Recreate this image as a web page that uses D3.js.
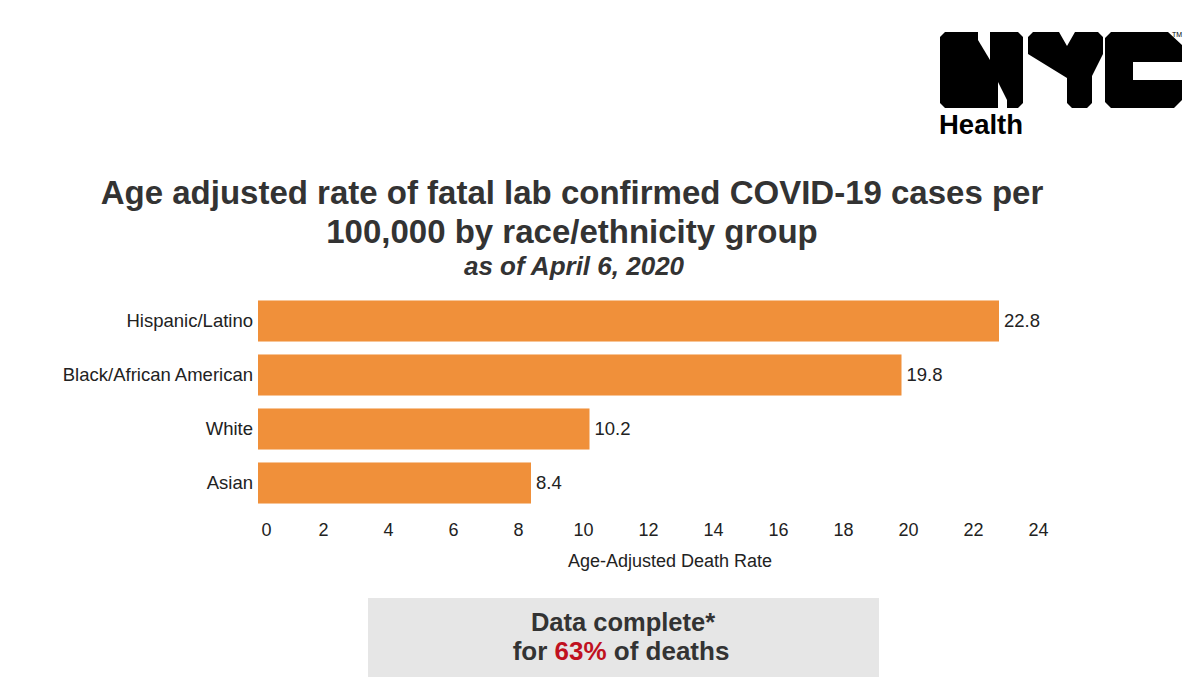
<!DOCTYPE html>
<html><head><meta charset="utf-8">
<script src="https://cdn.jsdelivr.net/npm/d3@7"></script>
<style>
body{margin:0;background:#fff;}
svg{display:block;font-family:"Liberation Sans",Arial,sans-serif;}
</style></head>
<body><svg id="c" width="1200" height="697"></svg>
<script>
const categories = ["Hispanic/Latino","Black/African American","White","Asian"];
const values = [22.8, 19.8, 10.2, 8.4];
const tickValues = [0,2,4,6,8,10,12,14,16,18,20,22,24];
const titleLines = ["Age adjusted rate of fatal lab confirmed COVID-19 cases per","100,000 by race/ethnicity group"];
const subtitle = "as of April 6, 2020";
const axisTitle = "Age-Adjusted Death Rate";

const svg = d3.select("#c");
const x = d3.scaleLinear().domain([0,24]).range([258,1038]);
const y = d3.scaleBand().domain(categories).range([294,510]).paddingInner(0.24).paddingOuter(0.12);

// Title
svg.append("g").selectAll("text").data(titleLines).join("text")
  .attr("x",572).attr("y",(d,i)=>204+i*39)
  .attr("text-anchor","middle").attr("font-size",33).attr("font-weight","bold").attr("fill","#333")
  .text(d=>d);
svg.append("text").attr("x",574).attr("y",275).attr("text-anchor","middle")
  .attr("font-size",26).attr("font-weight","bold").attr("font-style","italic").attr("fill","#333")
  .text(subtitle);

// Bars
svg.append("g").selectAll("rect").data(values).join("rect")
  .attr("x",x(0)).attr("y",(d,i)=>y(categories[i]))
  .attr("width",d=>x(d)-x(0)).attr("height",y.bandwidth())
  .attr("fill","#f0903a");
// Value labels
svg.append("g").selectAll("text").data(values).join("text")
  .attr("x",d=>x(d)+5).attr("y",(d,i)=>y(categories[i])+y.bandwidth()/2)
  .attr("dy","0.35em").attr("font-size",18.5).attr("fill","#222")
  .text(d=>d.toFixed(1));
// Category labels
svg.append("g").selectAll("text").data(categories).join("text")
  .attr("x",253).attr("y",d=>y(d)+y.bandwidth()/2)
  .attr("dy","0.35em").attr("text-anchor","end").attr("font-size",18.5).attr("fill","#222")
  .text(d=>d);

// X axis
const ax = svg.append("g").attr("transform","translate(0,517)")
  .call(d3.axisBottom(x).tickValues(tickValues).tickSize(0).tickPadding(6).tickFormat(d3.format("d")));
ax.select(".domain").remove();
ax.selectAll("text").attr("font-size",18).attr("fill","#222").attr("font-family","Liberation Sans, Arial, sans-serif");
ax.selectAll(".tick").filter(d=>d===0).select("text").attr("dx",8);

svg.append("text").attr("x",670).attr("y",567).attr("text-anchor","middle")
  .attr("font-size",18).attr("fill","#222").text(axisTitle);

// Note box
svg.append("rect").attr("x",368).attr("y",598).attr("width",511).attr("height",79).attr("fill","#e6e6e6");
svg.append("text").attr("x",623).attr("y",631).attr("text-anchor","middle")
  .attr("font-size",25.5).attr("font-weight","bold").attr("fill","#333").text("Data complete*");
const t2 = svg.append("text").attr("x",621).attr("y",660).attr("text-anchor","middle")
  .attr("font-size",26).attr("font-weight","bold").attr("fill","#333");
t2.append("tspan").text("for ");
t2.append("tspan").attr("fill","#c0111f").text("63%");
t2.append("tspan").text(" of deaths");

// NYC Health logo
const logo = svg.append("g");
const shapes = [
  // N
  [[940,37],[945,32],[1018,32],[1023,37],[1023,103],[1018,108],[945,108],[940,103]],
  // Y
  [[1028,37],[1033,32],[1059,32],[1067,46],[1075,32],[1098,32],[1103,37],[1103,54],[1092,76],[1092,103],[1087,108],[1072,108],[1067,103],[1067,78],[1028,54]],
  // C
  [[1111,32],[1168,32],[1182,45],[1182,62],[1133,62],[1133,80],[1182,80],[1182,100],[1174,108],[1111,108],[1105,102],[1105,38]]
];
logo.selectAll("path.s").data(shapes).join("path").attr("class","s")
  .attr("d",d=>d3.line()(d)+"Z").attr("fill","#000");
// N notches (white)
const notches = [
  [[978,31],[990,31],[990,60],[978,40]],
  [[998,109],[1007,109],[1007,100],[998,82]]
];
logo.selectAll("path.n").data(notches).join("path").attr("class","n")
  .attr("d",d=>d3.line()(d)+"Z").attr("fill","#fff");
logo.append("text").attr("x",1172).attr("y",37).attr("font-size",7).attr("fill","#000").text("TM");
logo.append("text").attr("x",939).attr("y",134).attr("font-size",27.5).attr("font-weight","bold").attr("fill","#000").text("Health");
</script></body></html>
